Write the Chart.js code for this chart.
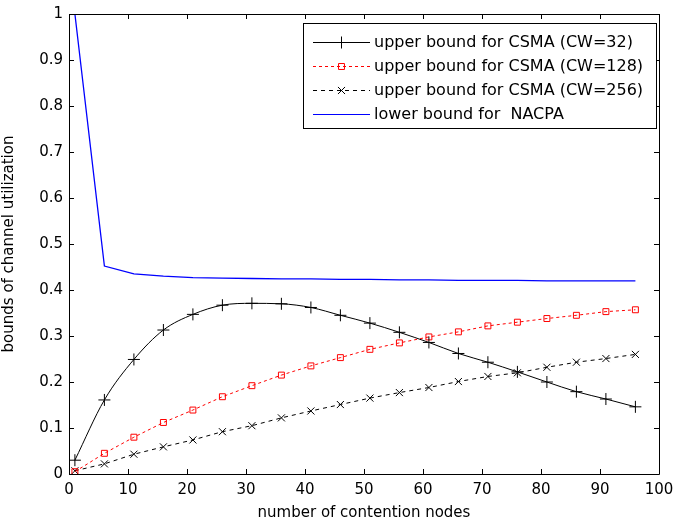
<!DOCTYPE html>
<html>
<head>
<meta charset="utf-8">
<script src="https://cdn.jsdelivr.net/npm/chart.js@4.4.1/dist/chart.umd.min.js"></script>
<style>
html,body{margin:0;padding:0;background:#fff;}
#wrap{width:674px;height:524px;position:relative;}
</style>
</head>
<body>
<div id="wrap"><canvas id="c" width="674" height="524"></canvas></div>
<script>
const nodes = [1,6,11,16,21,26,31,36,41,46,51,56,61,66,71,76,81,86,91,96];
const csma32 = [0.030,0.161,0.249,0.313,0.347,0.367,0.371,0.370,0.362,0.345,0.328,0.308,0.286,0.262,0.243,0.222,0.200,0.179,0.163,0.146];
const csma128 = [0.005,0.045,0.080,0.112,0.139,0.168,0.192,0.215,0.235,0.253,0.271,0.285,0.298,0.309,0.322,0.330,0.338,0.345,0.353,0.357];
const csma256 = [0.007,0.022,0.043,0.059,0.074,0.092,0.105,0.122,0.137,0.151,0.165,0.177,0.188,0.201,0.212,0.220,0.232,0.243,0.251,0.260];
const nacpa = [1.000,0.452,0.435,0.430,0.427,0.426,0.425,0.424,0.424,0.423,0.423,0.422,0.422,0.421,0.421,0.421,0.420,0.420,0.420,0.420];
const seriesLabels = ['upper bound for CSMA (CW=32)','upper bound for CSMA (CW=128)','upper bound for CSMA (CW=256)','lower bound for  NACPA'];
const xTitle = 'number of contention nodes';
const yTitle = 'bounds of channel utilization';

const pts = arr => arr.map((v,i)=>({x:nodes[i], y:v}));
const FONT = '"DejaVu Sans", Verdana, sans-serif';

const frame = {
  id:'frame',
  afterDatasetsDraw(chart){
    const {ctx, chartArea:a, scales:{x,y}} = chart;
    ctx.save();
    ctx.strokeStyle='#000'; ctx.lineWidth=1;
    ctx.beginPath();
    ctx.rect(Math.round(a.left)+0.5, Math.round(a.top)+0.5, Math.round(a.right-a.left), Math.round(a.bottom-a.top));
    ctx.stroke();
    const L=5;
    ctx.beginPath();
    x.ticks.forEach(t=>{
      const px=Math.round(x.getPixelForValue(t.value))+0.5;
      ctx.moveTo(px,a.bottom); ctx.lineTo(px,a.bottom-L);
      ctx.moveTo(px,a.top); ctx.lineTo(px,a.top+L);
    });
    y.ticks.forEach(t=>{
      const py=Math.round(y.getPixelForValue(t.value))+0.5;
      ctx.moveTo(a.left,py); ctx.lineTo(a.left+L,py);
      ctx.moveTo(a.right,py); ctx.lineTo(a.right-L,py);
    });
    ctx.stroke();
    ctx.restore();
  }
};

const legendBox = {
  id:'legendBox',
  afterDraw(chart){
    const {ctx} = chart;
    const x0=303.5, y0=23.5, w=353, h=105;
    ctx.save();
    ctx.fillStyle='#fff';
    ctx.fillRect(x0,y0,w,h);
    ctx.strokeStyle='#000'; ctx.lineWidth=1;
    ctx.strokeRect(x0,y0,w,h);
    const rows=[42,65.5,89.5,114];
    chart.data.datasets.forEach((ds,i)=>{
      const yy=Math.round(rows[i])+0.5;
      ctx.save();
      ctx.strokeStyle=ds.borderColor; ctx.lineWidth=1;
      ctx.setLineDash(ds.borderDash||[]);
      ctx.beginPath(); ctx.moveTo(313,yy); ctx.lineTo(370,yy); ctx.stroke();
      ctx.setLineDash([]);
      if(ds.pointStyle && ds.pointRadius>0){
        ctx.strokeStyle=ds.pointBorderColor;
        ctx.fillStyle=ds.pointBackgroundColor;
        ctx.lineWidth=1;
        Chart.helpers.drawPoint(ctx,{pointStyle:ds.pointStyle,radius:ds.pointRadius,borderWidth:1,rotation:0},341.5,yy);
      }
      ctx.restore();
      ctx.fillStyle='#000';
      ctx.font='16px '+FONT;
      ctx.textBaseline='middle';
      ctx.fillText(ds.label,374,yy);
    });
    ctx.restore();
  }
};

new Chart(document.getElementById('c'),{
  type:'line',
  data:{
    datasets:[
      {label:seriesLabels[0], data:pts(csma32), borderColor:'#000', borderWidth:1, pointStyle:'cross', pointRadius:6, pointBorderColor:'#000', pointBackgroundColor:'#000', pointBorderWidth:1, cubicInterpolationMode:'monotone', tension:0.4},
      {label:seriesLabels[1], data:pts(csma128), borderColor:'#ff0000', borderWidth:1, borderDash:[3,3], pointStyle:'rect', pointRadius:4.2, pointBorderColor:'#ff0000', pointBackgroundColor:'rgba(255,255,255,0)', pointBorderWidth:1},
      {label:seriesLabels[2], data:pts(csma256), borderColor:'#000', borderWidth:1, borderDash:[4,4], pointStyle:'crossRot', pointRadius:5, pointBorderColor:'#000', pointBackgroundColor:'#000', pointBorderWidth:1},
      {label:seriesLabels[3], data:pts(nacpa), borderColor:'#0000ff', borderWidth:1.3, pointRadius:0, pointStyle:false}
    ]
  },
  options:{
    responsive:false,
    animation:false,
    devicePixelRatio:1,
    layout:{padding:{left:0,top:14,right:15,bottom:0}},
    plugins:{legend:{display:false}, tooltip:{enabled:false}},
    scales:{
      x:{type:'linear', min:0, max:100,
        ticks:{stepSize:10, color:'#000', font:{family:FONT,size:15}, padding:7, maxRotation:0},
        grid:{display:false, drawTicks:false}, border:{display:false},
        title:{display:true, text:xTitle, color:'#000', font:{family:FONT,size:15}, padding:{top:1,bottom:2}},
        afterFit(s){ s.height=50; s.paddingRight=0; s.paddingLeft=0; }
      },
      y:{min:0, max:1,
        ticks:{stepSize:0.1, color:'#000', font:{family:FONT,size:15}, padding:6,
          callback:v=>String(parseFloat(Number(v).toFixed(1)))},
        grid:{display:false, drawTicks:false}, border:{display:false},
        title:{display:true, text:yTitle, color:'#000', font:{family:FONT,size:15}, padding:{top:0,bottom:4}},
        afterFit(s){ s.width=69; s.paddingTop=0; s.paddingBottom=0; }
      }
    }
  },
  plugins:[frame, legendBox]
});
</script>
</body>
</html>
